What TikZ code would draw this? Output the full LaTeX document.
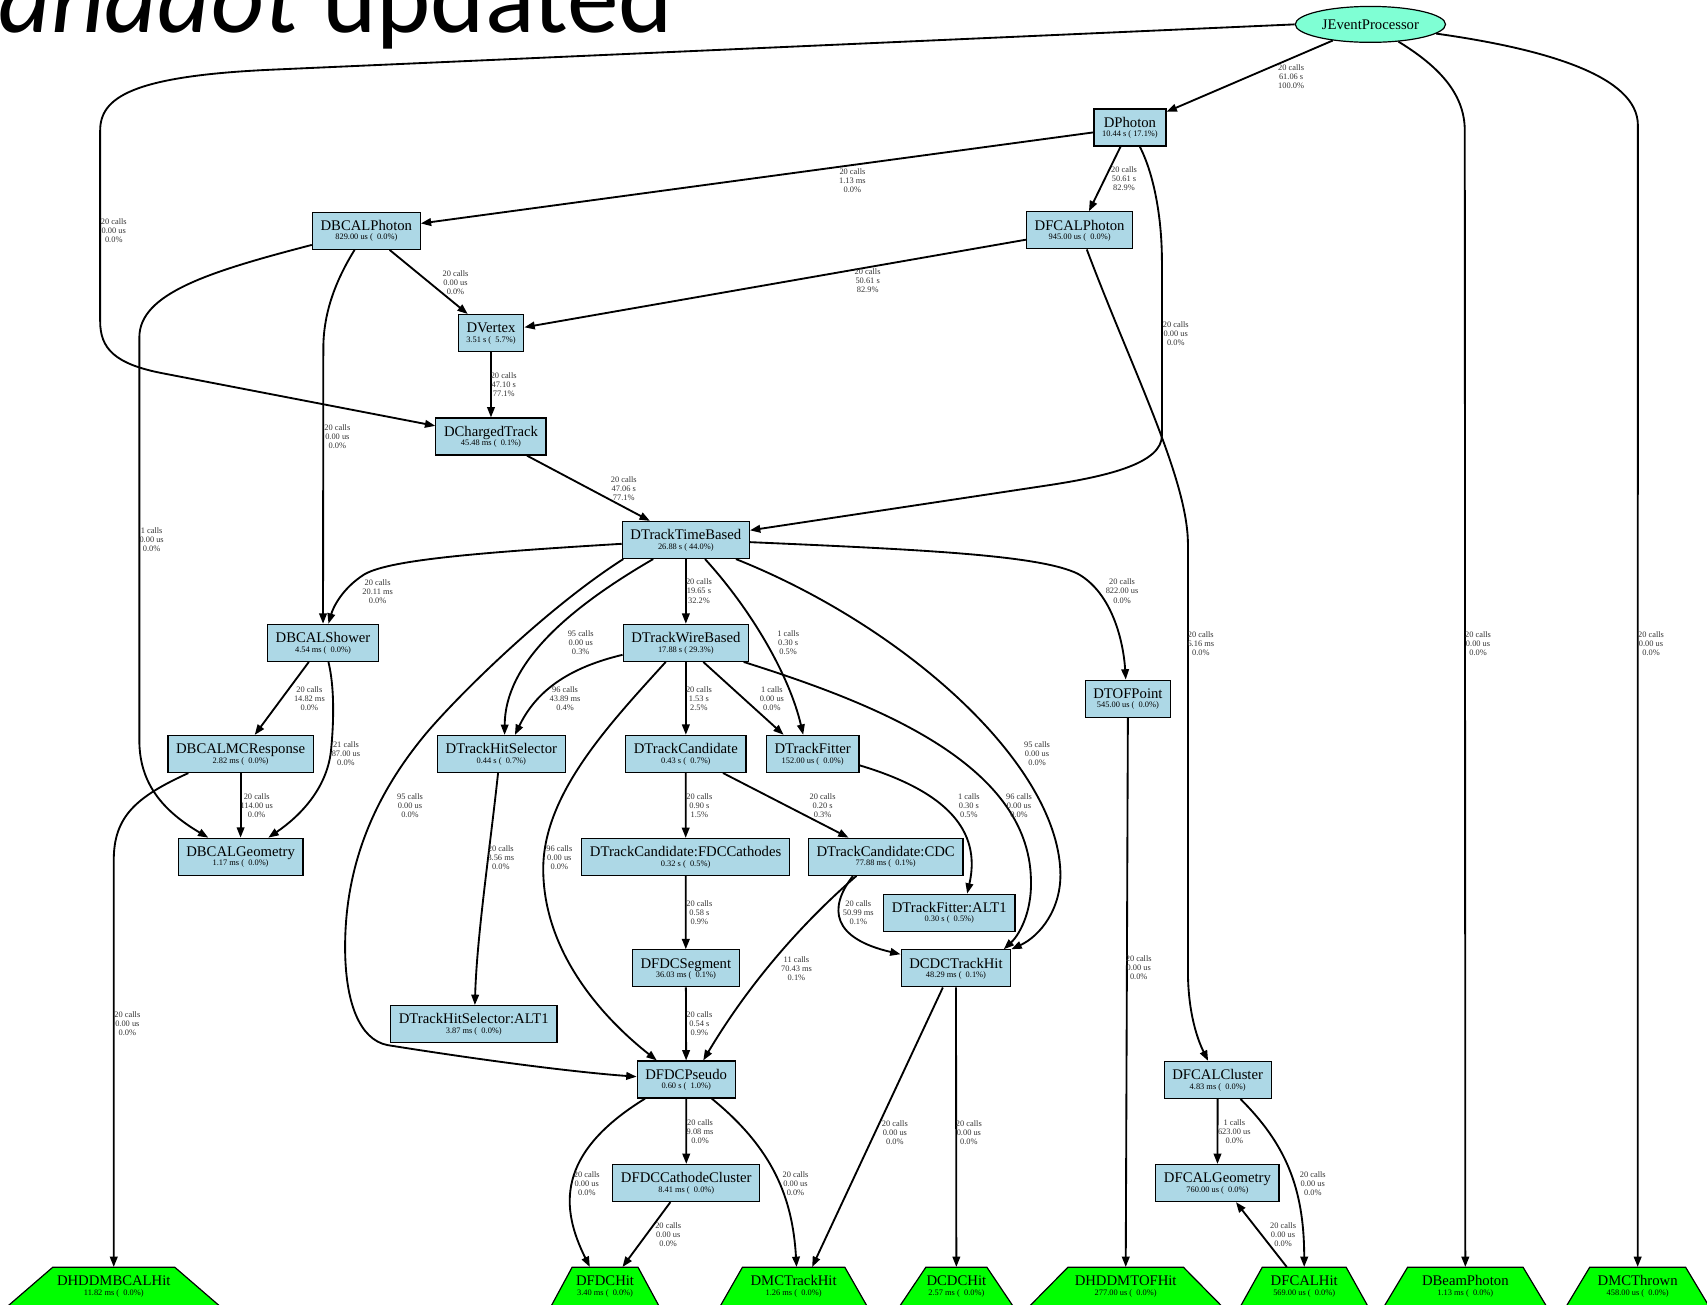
\documentclass[tikz,border=0pt]{standalone}
\usepackage{fontspec}
\setmainfont{Liberation Serif}
\newfontfamily\TitleFam{Carlito}
\usetikzlibrary{arrows.meta,shapes.geometric}
\definecolor{lb}{HTML}{ADD8E6}
\definecolor{aq}{HTML}{7FFFD4}
\definecolor{gr}{HTML}{00FF00}
\newcommand{\NmFnt}{\fontsize{13.5}{15}\selectfont}
\newcommand{\SbFnt}{\fontsize{7.7}{9}\selectfont}
\newcommand{\LbFnt}{\fontsize{7.7}{8.3}\selectfont}
\newcommand{\twol}[2]{\vbox{\offinterlineskip\halign{\hfil##\hfil\cr\vrule height 9.3pt depth 0pt width 0pt\smash{\NmFnt #1}\cr\vrule height 8.6pt depth 1pt width 0pt\smash{\SbFnt #2}\cr}}}
\tikzset{
 box/.style={rectangle, draw=black, line width=1.1pt, fill=lb, minimum height=34pt, inner xsep=7.5pt, inner ysep=0pt},
 hit/.style={rectangle, draw=none, minimum height=34.4pt, inner sep=0pt},
 hitshape/.style={fill=gr, draw=black, line width=1.1pt},
 edg/.style={line width=1.7pt, -{Triangle[length=9.5pt,width=7pt]}},
 lbl/.style={font=\LbFnt, align=center, inner sep=0pt, text=black!80}
}
\newcommand{\hitpoly}[3]{\filldraw[hitshape] ({#1-#2/2},1164) -- ({#1+#2/2},1164) -- ({#1+#3/2},1199) -- ({#1+#3/2},1215) -- ({#1-#3/2},1215) -- ({#1-#3/2},1199) -- cycle;}
\begin{document}
\begin{tikzpicture}[x=1pt,y=-1pt]
\useasboundingbox (0,0) rectangle (1568,1198.7);
\clip (0,0) rectangle (1568,1198.7);
\node[anchor=base east, inner sep=0pt] (title) at (618.5,29.5) {\TitleFam\fontsize{95}{100}\selectfont{\itshape janadot} updated};

% nodes
\node[ellipse, draw=black, line width=1.1pt, fill=aq, minimum width=138pt, minimum height=33pt, inner sep=0pt, font=\NmFnt] (jep) at (1258.8,22.4) {JEventProcessor};
\node[box] (dphoton) at (1037.9,117.1) {\twol{DPhoton}{10.44 s ( 17.1\%)}};
\node[box] (dbcalph) at (336.5,212) {\twol{DBCALPhoton}{829.00 us (~~0.0\%)}};
\node[box] (dfcalph) at (991.7,211.6) {\twol{DFCALPhoton}{945.00 us (~~0.0\%)}};
\node[box] (dvtx) at (451,306) {\twol{DVertex}{3.51 s (~~5.7\%)}};
\node[box] (dct) at (451,401) {\twol{DChargedTrack}{45.48 ms (~~0.1\%)}};
\node[box] (dtb) at (630,496) {\twol{DTrackTimeBased}{26.88 s (~44.0\%)}};
\node[box] (dbcalsh) at (296.7,590.5) {\twol{DBCALShower}{4.54 ms (~~0.0\%)}};
\node[box] (dtwb) at (630,590.5) {\twol{DTrackWireBased}{17.88 s (~29.3\%)}};
\node[box] (dtof) at (1036.1,641.8) {\twol{DTOFPoint}{545.00 us (~~0.0\%)}};
\node[box] (dbcalmc) at (221,692.6) {\twol{DBCALMCResponse}{2.82 ms (~~0.0\%)}};
\node[box] (dths) at (460.5,692.6) {\twol{DTrackHitSelector}{0.44 s (~~0.7\%)}};
\node[box] (dtc) at (630,692.5) {\twol{DTrackCandidate}{0.43 s (~~0.7\%)}};
\node[box] (dtf) at (746.5,692.5) {\twol{DTrackFitter}{152.00 us (~~0.0\%)}};
\node[box] (dbcalgeo) at (221,787) {\twol{DBCALGeometry}{1.17 ms (~~0.0\%)}};
\node[box] (dtcfdc) at (629.8,787.2) {\twol{DTrackCandidate:FDCCathodes}{0.32 s (~~0.5\%)}};
\node[box] (dtccdc) at (813.5,787) {\twol{DTrackCandidate:CDC}{77.88 ms (~~0.1\%)}};
\node[box] (dtfalt) at (872,838.4) {\twol{DTrackFitter:ALT1}{0.30 s (~~0.5\%)}};
\node[box] (dfdcseg) at (630,889.5) {\twol{DFDCSegment}{36.03 ms (~~0.1\%)}};
\node[box] (dcdcth) at (878.1,889.5) {\twol{DCDCTrackHit}{48.29 ms (~~0.1\%)}};
\node[box] (dthsalt) at (435.2,940.7) {\twol{DTrackHitSelector:ALT1}{3.87 ms (~~0.0\%)}};
\node[box] (dfcalcl) at (1118.5,992) {\twol{DFCALCluster}{4.83 ms (~~0.0\%)}};
\node[box] (dfdcps) at (630.3,991.6) {\twol{DFDCPseudo}{0.60 s (~~1.0\%)}};
\node[box] (dfdccc) at (630.4,1086.7) {\twol{DFDCCathodeCluster}{8.41 ms (~~0.0\%)}};
\node[box] (dfcalgeo) at (1118.3,1086.7) {\twol{DFCALGeometry}{760.00 us (~~0.0\%)}};

% hit nodes
\hitpoly{104.5}{112}{193}
\node[hit, minimum width=112pt] (hbcal) at (104.5,1181.2) {\twol{DHDDMBCALHit}{11.82 ms (~~0.0\%)}};
\hitpoly{555.8}{60.5}{98.3}
\node[hit, minimum width=60.5pt] (hfdc) at (555.8,1181.2) {\twol{DFDCHit}{3.40 ms (~~0.0\%)}};
\hitpoly{729}{94}{134}
\node[hit, minimum width=94pt] (hmctr) at (729,1181.2) {\twol{DMCTrackHit}{1.26 ms (~~0.0\%)}};
\hitpoly{878.5}{56}{103}
\node[hit, minimum width=56pt] (hcdc) at (878.5,1181.2) {\twol{DCDCHit}{2.57 ms (~~0.0\%)}};
\hitpoly{1034}{106}{175}
\node[hit, minimum width=106pt] (htof) at (1034,1181.2) {\twol{DHDDMTOFHit}{277.00 us (~~0.0\%)}};
\hitpoly{1198}{77}{116}
\node[hit, minimum width=77pt] (hfcal) at (1198,1181.2) {\twol{DFCALHit}{569.00 us (~~0.0\%)}};
\hitpoly{1346}{106}{148}
\node[hit, minimum width=106pt] (hbeam) at (1346,1181.2) {\twol{DBeamPhoton}{1.13 ms (~~0.0\%)}};
\hitpoly{1504.3}{88}{130}
\node[hit, minimum width=88pt] (hthrown) at (1504.3,1181.2) {\twol{DMCThrown}{458.00 us (~~0.0\%)}};

% edges
\draw[edg] (jep) -- (dphoton);
\draw[edg] (jep.west) -- (250,64) .. controls (120,69.8) and (92,90) .. (92,120) -- (92,295) .. controls (92,320) and (105,334.4) .. (150,343) -- (dct);
\draw[edg] (jep) .. controls (1320,60) and (1345.5,85) .. (1345.5,120) -- (hbeam);
\draw[edg] (jep) .. controls (1420,45) and (1504.5,70) .. (1504.5,115) -- (hthrown);
\draw[edg] (dphoton) -- (dbcalph);
\draw[edg] (dphoton) -- (dfcalph);
\draw[edg] (dphoton) .. controls (1060,160) and (1067.3,200) .. (1067.3,240) -- (1067.3,400) .. controls (1067.3,425) and (1020,437) .. (964.6,445.5) -- (dtb);
\draw[edg] (dbcalph) -- (dvtx);
\draw[edg] (dbcalph) .. controls (310,255) and (297,285) .. (297,320) -- (dbcalsh);
\draw[edg] (dbcalph) .. controls (190,250) and (128,270) .. (128,310) -- (128,680) .. controls (128,720) and (150,745) .. (dbcalgeo);
\draw[edg] (dfcalph) -- (dvtx);
\draw[edg] (dfcalph) .. controls (1040,340) and (1091.2,440) .. (1091.2,500) -- (1091.2,892) .. controls (1091.2,930) and (1100,955) .. (dfcalcl);
\draw[edg] (dvtx) -- (dct);
\draw[edg] (dct) -- (dtb);
\draw[edg] (dtb) .. controls (430,508) and (355,515) .. (334,528) .. controls (314,541) and (306,558) .. (dbcalsh);
\draw[edg] (dtb) -- (dtwb);
\draw[edg] ([xshift=-30pt]dtb.south) .. controls (520,560) and (464,610) .. ([xshift=3pt]dths.north);
\draw[edg] ([xshift=17.6pt]dtb.south) .. controls (690,560) and (725,620) .. ([xshift=-8.7pt]dtf.north);
\draw[edg] ([xshift=46pt]dtb.south) .. controls (830,575) and (970,700) .. (974,800) .. controls (975.5,835) and (955,860) .. (dcdcth.north east);
\draw[edg] ([xshift=-57.5pt]dtb.south) .. controls (500,560) and (420,640) .. (392,673) .. controls (340,735) and (317,800) .. (317,870) .. controls (317,920) and (330,955) .. (356,960) .. controls (450,975) and (530,985) .. ([yshift=2.6pt]dfdcps.west);
\draw[edg] ([yshift=-2pt]dtb.east) .. controls (850,505) and (955,510) .. (990,527) .. controls (1022,545) and (1032,590) .. ([xshift=-2pt]dtof.north);
\draw[edg] (dbcalsh) -- (dbcalmc);
\draw[edg] ([xshift=5pt]dbcalsh.south) .. controls (307,630) and (307,660) .. (304,690) .. controls (300,725) and (275,750) .. ([xshift=25.5pt]dbcalgeo.north);
\draw[edg] (dbcalmc) -- (dbcalgeo);
\draw[edg] ([xshift=-48pt]dbcalmc.south) .. controls (125,732) and (104.5,750) .. (104.5,790) -- (hbcal);
\draw[edg] ([yshift=-11pt]dtwb.west) .. controls (515,615) and (490,640) .. ([xshift=12.5pt]dths.north);
\draw[edg] (dtwb) -- (dtc);
\draw[edg] ([xshift=16pt]dtwb.south) -- ([xshift=-26.7pt]dtf.north);
\draw[edg] ([xshift=-5pt]dtwb.south east) .. controls (800,645) and (945,700) .. (947,808) .. controls (948,840) and (935,860) .. ([xshift=-7pt]dcdcth.north east);
\draw[edg] ([xshift=-18.5pt]dtwb.south) .. controls (560,665) and (498,730) .. (499,800) .. controls (500,880) and (560,940) .. ([xshift=-27pt]dfdcps.north);
\draw[edg] ([xshift=-3pt]dths.south) .. controls (450,780) and (438,860) .. ([xshift=1pt]dthsalt.north);
\draw[edg] (dtc) -- (dtcfdc);
\draw[edg] (dtc) -- (dtccdc);
\draw[edg] ([yshift=-10.5pt]dtf.east) .. controls (880,730) and (900,770) .. ([xshift=16.4pt]dtfalt.north);
\draw[edg] (dtcfdc) -- (dfdcseg);
\draw[edg] ([xshift=-26.8pt]dtccdc.south) .. controls (740,845) and (690,900) .. ([xshift=15.7pt]dfdcps.north);
\draw[edg] ([xshift=-30pt]dtccdc.south) .. controls (760,835) and (765,862) .. ([yshift=-4.6pt]dcdcth.north west);
\draw[edg] (dfdcseg) -- (dfdcps);
\draw[edg] ([xshift=-12pt]dcdcth.south) -- ([xshift=17pt]hmctr.north);
\draw[edg] (dcdcth) -- (hcdc);
\draw[edg] (dfdcps) -- (dfdccc);
\draw[edg] ([xshift=-37.8pt]dfdcps.south) .. controls (510,1060) and (515,1110) .. ([xshift=-14pt]hfdc.north);
\draw[edg] ([xshift=23.5pt]dfdcps.south) .. controls (710,1055) and (728,1100) .. ([xshift=2.7pt]hmctr.north);
\draw[edg] ([xshift=-14.6pt]dfdccc.south) -- ([xshift=16pt]hfdc.north);
\draw[edg] (dtof) -- (htof);
\draw[edg] (dfcalcl) -- (dfcalgeo);
\draw[edg] ([xshift=21pt]dfcalcl.south) .. controls (1180,1050) and (1198,1090) .. (hfcal.north);
\draw[edg] ([xshift=-16pt]hfcal.north) -- ([xshift=17pt]dfcalgeo.south);

% labels
\node[lbl] (l1) at (1186,70.4) {20 calls\\61.06 s\\100.0\%};
\node[lbl] (l2) at (104.5,212) {20 calls\\0.00 us\\0.0\%};
\node[lbl] (l3) at (783,166) {20 calls\\1.13 ms\\0.0\%};
\node[lbl] (l4) at (1032.5,164.4) {20 calls\\50.61 s\\82.9\%};
\node[lbl] (l5) at (797,258) {20 calls\\50.61 s\\82.9\%};
\node[lbl] (l6) at (418.4,259.4) {20 calls\\0.00 us\\0.0\%};
\node[lbl] (l7) at (1080,306.8) {20 calls\\0.00 us\\0.0\%};
\node[lbl] (l8) at (309.9,401) {20 calls\\0.00 us\\0.0\%};
\node[lbl] (l9) at (462.7,353.7) {20 calls\\47.10 s\\77.1\%};
\node[lbl] (l10) at (573,448.6) {20 calls\\47.06 s\\77.1\%};
\node[lbl] (l11) at (139.3,496) {1 calls\\0.00 us\\0.0\%};
\node[lbl] (l12) at (346.9,543.2) {20 calls\\20.11 ms\\0.0\%};
\node[lbl] (l13) at (642,543) {20 calls\\19.65 s\\32.2\%};
\node[lbl] (l14) at (1030.7,543) {20 calls\\822.00 us\\0.0\%};
\node[lbl] (l15) at (533.4,590.4) {95 calls\\0.00 us\\0.3\%};
\node[lbl] (l16) at (724,590.4) {1 calls\\0.30 s\\0.5\%};
\node[lbl] (l17) at (1103,591) {20 calls\\6.16 ms\\0.0\%};
\node[lbl] (l18) at (1357.7,591) {20 calls\\0.00 us\\0.0\%};
\node[lbl] (l19) at (1516.6,591) {20 calls\\0.00 us\\0.0\%};
\node[lbl] (l20) at (284.2,641.5) {20 calls\\14.82 ms\\0.0\%};
\node[lbl] (l21) at (519,641.5) {96 calls\\43.89 ms\\0.4\%};
\node[lbl] (l22) at (642,641.5) {20 calls\\1.53 s\\2.5\%};
\node[lbl] (l23) at (709,641.5) {1 calls\\0.00 us\\0.0\%};
\node[lbl] (l24) at (317.8,692.6) {21 calls\\87.00 us\\0.0\%};
\node[lbl] (l25) at (952.6,692.6) {95 calls\\0.00 us\\0.0\%};
\node[lbl] (l26) at (235.8,740.4) {20 calls\\114.00 us\\0.0\%};
\node[lbl] (l27) at (376.6,740.4) {95 calls\\0.00 us\\0.0\%};
\node[lbl] (l28) at (642.4,740) {20 calls\\0.90 s\\1.5\%};
\node[lbl] (l29) at (755.6,740) {20 calls\\0.20 s\\0.3\%};
\node[lbl] (l30) at (890,740) {1 calls\\0.30 s\\0.5\%};
\node[lbl] (l31) at (936,740) {96 calls\\0.00 us\\0.0\%};
\node[lbl] (l32) at (460,787.5) {20 calls\\3.56 ms\\0.0\%};
\node[lbl] (l33) at (513.8,787.5) {96 calls\\0.00 us\\0.0\%};
\node[lbl] (l34) at (642.4,838.4) {20 calls\\0.58 s\\0.9\%};
\node[lbl] (l35) at (788.4,838.4) {20 calls\\50.99 ms\\0.1\%};
\node[lbl] (l36) at (731.6,889.5) {11 calls\\70.43 ms\\0.1\%};
\node[lbl] (l37) at (1046,889) {20 calls\\0.00 us\\0.0\%};
\node[lbl] (l38) at (117,940) {20 calls\\0.00 us\\0.0\%};
\node[lbl] (l39) at (642.4,940.7) {20 calls\\0.54 s\\0.9\%};
\node[lbl] (l40) at (643,1039.6) {20 calls\\9.08 ms\\0.0\%};
\node[lbl] (l41) at (822,1040) {20 calls\\0.00 us\\0.0\%};
\node[lbl] (l42) at (890,1040) {20 calls\\0.00 us\\0.0\%};
\node[lbl] (l43) at (1133.8,1039.2) {1 calls\\623.00 us\\0.0\%};
\node[lbl] (l44) at (539,1087) {20 calls\\0.00 us\\0.0\%};
\node[lbl] (l45) at (730.7,1087) {20 calls\\0.00 us\\0.0\%};
\node[lbl] (l46) at (1205.9,1087) {20 calls\\0.00 us\\0.0\%};
\node[lbl] (l47) at (613.8,1134.5) {20 calls\\0.00 us\\0.0\%};
\node[lbl] (l48) at (1178.6,1134.5) {20 calls\\0.00 us\\0.0\%};
\end{tikzpicture}
\end{document}
